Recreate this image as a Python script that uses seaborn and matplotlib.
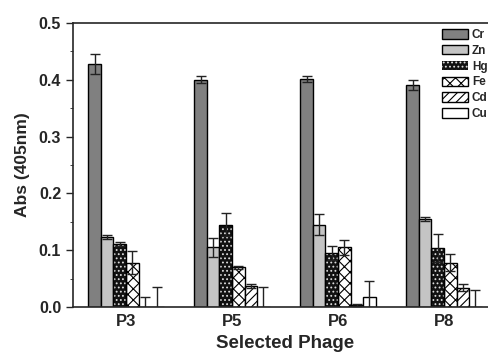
import numpy as np
import pandas as pd
import matplotlib
matplotlib.use("Agg")
import matplotlib.pyplot as plt
import seaborn as sns
from matplotlib.patches import Patch

# --- données ---
phages = ["P3", "P5", "P6", "P8"]
metals = ["Cr", "Zn", "Hg", "Fe", "Cd", "Cu"]

cr = [0.428, 0.400, 0.402, 0.391]
zn = [0.123, 0.105, 0.145, 0.155]
hg = [0.111, 0.145, 0.095, 0.104]
fe = [0.078, 0.070, 0.105, 0.078]
cd = [0.000, 0.037, 0.004, 0.034]
cu = [0.000, 0.000, 0.018, 0.000]

cr_err = [0.018, 0.006, 0.005, 0.009]
zn_err = [0.003, 0.017, 0.018, 0.003]
hg_err = [0.004, 0.020, 0.012, 0.025]
fe_err = [0.020, 0.003, 0.013, 0.015]
cd_err = [0.017, 0.004, 0.002, 0.006]
cu_err = [0.036, 0.035, 0.028, 0.030]

values = [cr, zn, hg, fe, cd, cu]
errors = [cr_err, zn_err, hg_err, fe_err, cd_err, cu_err]

df = pd.DataFrame({
    "phage": np.tile(phages, len(metals)),
    "metal": np.repeat(metals, len(phages)),
    "abs": np.concatenate(values),
    "err": np.concatenate(errors),
})

sns.set_style("ticks")
plt.rcParams["font.family"] = ["Liberation Sans", "DejaVu Sans"]
plt.rcParams["font.weight"] = "bold"
plt.rcParams["hatch.linewidth"] = 0.8

fig = plt.figure(figsize=(4.88, 3.57), dpi=100)
ax = fig.add_axes([73 / 488, 50 / 357, 424 / 488, 284 / 357])

faces = {"Cr": "#808080", "Zn": "#c4c4c4", "Hg": "#111111", "Fe": "white", "Cd": "white", "Cu": "white"}
hatches = {"Cr": None, "Zn": None, "Hg": "....", "Fe": "xxx", "Cd": "////", "Cu": None}

sns.barplot(data=df, x="phage", y="abs", hue="metal", order=phages, hue_order=metals,
            errorbar=None, width=0.71, gap=0, palette=faces, saturation=1,
            edgecolor="black", linewidth=1.0, legend=False, ax=ax)

# motifs + barres d'erreur
for container, m in zip(ax.containers, metals):
    sub = df[df.metal == m].set_index("phage").loc[phages]
    for bar, (_, row) in zip(container, sub.iterrows()):
        if m == "Hg":
            bar.set_hatch(hatches[m])
            bar.set_edgecolor("#dddddd")
            bar.set_linewidth(0)
            x0, w, h = bar.get_x(), bar.get_width(), bar.get_height()
            ax.add_patch(plt.Rectangle((x0, 0), w, h, fill=False, edgecolor="black", lw=1.0, zorder=bar.get_zorder() + 0.1))
        elif hatches[m]:
            bar.set_hatch(hatches[m])
        xc = bar.get_x() + bar.get_width() / 2
        ax.errorbar(xc, row["abs"], yerr=row["err"], fmt="none", ecolor="#222222",
                    elinewidth=1.0, capsize=3.6, capthick=1.0, zorder=5)

ax.set_ylim(0, 0.5)
ax.set_xlim(-0.5, 3.5)
ax.set_yticks(np.arange(0, 0.51, 0.1))
ax.set_yticklabels([f"{v:.1f}" for v in np.arange(0, 0.51, 0.1)])
ax.set_yticks(np.arange(0.05, 0.5, 0.1), minor=True)
ax.tick_params(axis="y", which="major", length=5, width=1.0, labelsize=11.5)
ax.tick_params(axis="y", which="minor", length=2.5, width=0.6)
ax.tick_params(axis="x", length=0, labelsize=12, pad=5)
for lab in ax.get_xticklabels() + ax.get_yticklabels():
    lab.set_fontweight("bold")

ax.set_xlabel("Selected Phage", fontsize=13.5, fontweight="bold", labelpad=4)
ax.set_ylabel("Abs (405nm)", fontsize=12.5, fontweight="bold", labelpad=6)
for s in ax.spines.values():
    s.set_linewidth(1.2)
ax.spines["right"].set_visible(False)

handles = []
for m in metals:
    if m == "Hg":
        handles.append(Patch(facecolor=faces[m], edgecolor="#dddddd", hatch=hatches[m], lw=0))
    else:
        handles.append(Patch(facecolor=faces[m], edgecolor="black", hatch=hatches[m], lw=1.0))
leg = ax.legend(handles, metals, loc="upper left", bbox_to_anchor=(442 / 488, 328 / 357),
                bbox_transform=fig.transFigure, frameon=False, fontsize=8.5,
                handlelength=2.2, handleheight=0.85, handletextpad=0.33, labelspacing=0.32,
                borderaxespad=0, borderpad=0)
for t in leg.get_texts():
    t.set_fontweight("bold")

fig.savefig("out.png", dpi=100)
